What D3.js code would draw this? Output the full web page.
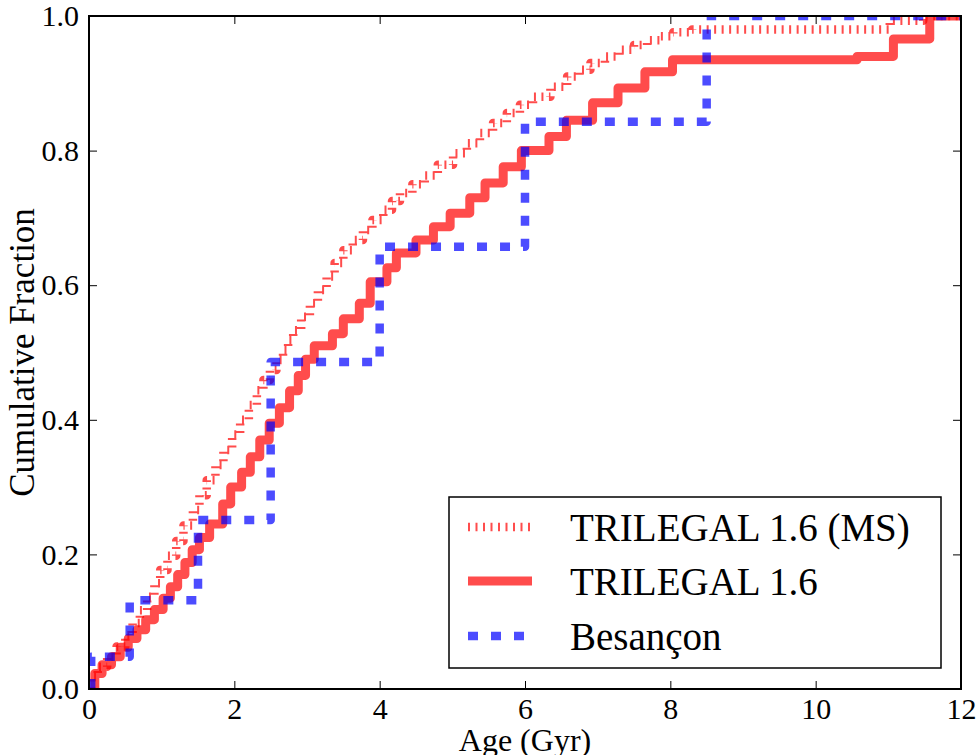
<!DOCTYPE html>
<html>
<head>
<meta charset="utf-8">
<script src="https://cdn.jsdelivr.net/npm/d3@7"></script>
<style>
  html, body { margin: 0; padding: 0; background: #fff; }
  svg { display: block; }
  text { font-family: "Liberation Serif", "DejaVu Serif", serif; fill: #000; }
</style>
</head>
<body>
<svg id="chart" width="977" height="755"></svg>
<script>
// ---- data ----
const seriesNames = ["TRILEGAL 1.6 (MS)", "TRILEGAL 1.6", "Besançon"];

const msAge  = [0.03, 0.03, 0.12, 0.25, 0.38, 0.50, 0.60, 0.70, 0.80, 0.90, 0.98, 1.08, 1.20, 1.30, 1.43, 1.52, 1.62, 1.74, 1.85, 1.97, 2.08, 2.20, 2.31, 2.40, 2.49, 2.58, 2.67, 2.74, 2.81, 2.92, 3.04, 3.15, 3.27, 3.38, 3.50, 3.63, 3.77, 3.90, 4.05, 4.17, 4.28, 4.45, 4.62, 4.80, 5.01, 5.20, 5.38, 5.56, 5.75, 5.93, 6.11, 6.35, 6.58, 6.75, 6.90, 7.10, 7.30, 7.50, 7.68, 7.86, 8.04, 8.30, 11.02, 11.48, 12.0];
const msFrac = [0, 0.018, 0.033, 0.048, 0.063, 0.080, 0.098, 0.117, 0.137, 0.157, 0.177, 0.198, 0.220, 0.243, 0.266, 0.288, 0.310, 0.333, 0.355, 0.378, 0.400, 0.422, 0.444, 0.459, 0.474, 0.489, 0.504, 0.519, 0.533, 0.553, 0.573, 0.593, 0.613, 0.633, 0.652, 0.667, 0.682, 0.697, 0.712, 0.725, 0.737, 0.750, 0.763, 0.779, 0.796, 0.811, 0.826, 0.841, 0.856, 0.868, 0.880, 0.895, 0.910, 0.920, 0.930, 0.940, 0.950, 0.957, 0.964, 0.970, 0.976, 0.980, 0.993, 1.0, 1.0];

const triAge  = [0.08, 0.08, 0.18, 0.31, 0.43, 0.54, 0.66, 0.78, 0.90, 1.02, 1.12, 1.22, 1.32, 1.42, 1.52, 1.66, 1.84, 1.95, 2.10, 2.22, 2.35, 2.48, 2.62, 2.76, 2.88, 2.98, 3.10, 3.35, 3.50, 3.72, 3.87, 4.10, 4.23, 4.50, 4.74, 4.97, 5.24, 5.45, 5.70, 5.95, 6.33, 6.57, 6.93, 7.28, 7.65, 8.03, 10.57, 11.07, 11.57, 12.0];
const triFrac = [0, 0.023, 0.036, 0.048, 0.062, 0.075, 0.088, 0.103, 0.118, 0.135, 0.152, 0.170, 0.188, 0.207, 0.225, 0.245, 0.275, 0.300, 0.322, 0.345, 0.370, 0.395, 0.418, 0.443, 0.466, 0.490, 0.510, 0.528, 0.550, 0.573, 0.605, 0.626, 0.648, 0.667, 0.687, 0.707, 0.730, 0.752, 0.776, 0.800, 0.821, 0.845, 0.871, 0.893, 0.917, 0.935, 0.940, 0.966, 1.0, 1.0];

const besAge  = [0.03, 0.03, 0.56, 1.50, 2.50, 4.00, 6.00, 8.50, 12.0];
const besFrac = [0, 0.048, 0.132, 0.251, 0.486, 0.657, 0.843, 1.0, 1.0];

const xTicks = [0, 2, 4, 6, 8, 10, 12];
const yTicks = [0.0, 0.2, 0.4, 0.6, 0.8, 1.0];
const xLabel = "Age (Gyr)";
const yLabel = "Cumulative Fraction";

// ---- layout ----
const L = 89, R = 961, T = 16, B = 689;
const svg = d3.select("#chart");
const x = d3.scaleLinear().domain([0, 12]).range([L, R]);
const y = d3.scaleLinear().domain([0, 1]).range([B, T]);

svg.append("defs").append("clipPath").attr("id", "plotclip")
  .append("rect").attr("x", L).attr("y", T).attr("width", R - L).attr("height", B - T);

const styles = [
  { color: "#ff0000", width: 8.5, dash: "2,5.5", opacity: 0.7 },
  { color: "#ff0000", width: 9,   dash: null,    opacity: 0.7 },
  { color: "#0000ff", width: 8.5, dash: "10,13", opacity: 0.7 }
];

const zip = (a, b) => a.map((v, i) => [v, b[i]]);
const series = [zip(msAge, msFrac), zip(triAge, triFrac), zip(besAge, besFrac)];

const line = d3.line().x(d => x(d[0])).y(d => y(d[1])).curve(d3.curveStepAfter);

const plot = svg.append("g").attr("clip-path", "url(#plotclip)");
series.forEach((s, i) => {
  const st = styles[i];
  plot.append("path")
    .attr("d", line(s))
    .attr("fill", "none")
    .attr("stroke", st.color)
    .attr("stroke-opacity", st.opacity)
    .attr("stroke-width", st.width)
    .attr("stroke-linejoin", "round")
    .attr("stroke-linecap", st.dash ? "butt" : "round")
    .attr("stroke-dasharray", st.dash);
});

// ---- axes ----
const tickLen = 8;
const xAxisB = d3.axisBottom(x).tickValues(xTicks).tickSizeInner(-tickLen).tickSizeOuter(0).tickPadding(9).tickFormat(d3.format("d"));
const xAxisT = d3.axisTop(x).tickValues(xTicks).tickSizeInner(-tickLen).tickSizeOuter(0).tickFormat("");
const yAxisL = d3.axisLeft(y).tickValues(yTicks).tickSizeInner(-tickLen).tickSizeOuter(0).tickPadding(10).tickFormat(d3.format(".1f"));
const yAxisR = d3.axisRight(y).tickValues(yTicks).tickSizeInner(-tickLen).tickSizeOuter(0).tickFormat("");

function styleAxis(g) {
  g.select(".domain").remove();
  g.selectAll(".tick line").attr("stroke", "#000").attr("stroke-width", 1);
  g.selectAll(".tick text").style("font-family", "'Liberation Serif', serif").style("font-size", "30px").attr("fill", "#000");
}
svg.append("g").attr("transform", `translate(0,${B})`).call(xAxisB).call(styleAxis);
svg.append("g").attr("transform", `translate(0,${T})`).call(xAxisT).call(styleAxis);
svg.append("g").attr("transform", `translate(${L},0)`).call(yAxisL).call(styleAxis);
svg.append("g").attr("transform", `translate(${R},0)`).call(yAxisR).call(styleAxis);

// frame
svg.append("rect").attr("x", L).attr("y", T).attr("width", R - L).attr("height", B - T)
  .attr("fill", "none").attr("stroke", "#000").attr("stroke-width", 2);

// axis labels
svg.append("text").attr("x", (L + R) / 2).attr("y", 751).attr("text-anchor", "middle")
  .style("font-size", "32px").text(xLabel);
svg.append("text").attr("transform", `translate(34,${(T + B) / 2}) rotate(-90)`).attr("text-anchor", "middle")
  .style("font-size", "35px").text(yLabel);

// ---- legend ----
const lg = svg.append("g");
lg.append("rect").attr("x", 449).attr("y", 497).attr("width", 492).attr("height", 171)
  .attr("fill", "#fff").attr("stroke", "#000").attr("stroke-width", 1.5);
const rowY = [527, 581, 636];
seriesNames.forEach((name, i) => {
  const st = styles[i];
  lg.append("line").attr("x1", 468).attr("x2", 532).attr("y1", rowY[i]).attr("y2", rowY[i])
    .attr("stroke", st.color).attr("stroke-opacity", st.opacity).attr("stroke-width", st.width)
    .attr("stroke-dasharray", st.dash).attr("stroke-linecap", "butt");
  lg.append("text").attr("x", 570).attr("y", rowY[i]).attr("dy", "0.35em")
    .style("font-size", "39px").text(name);
});
</script>
</body>
</html>
